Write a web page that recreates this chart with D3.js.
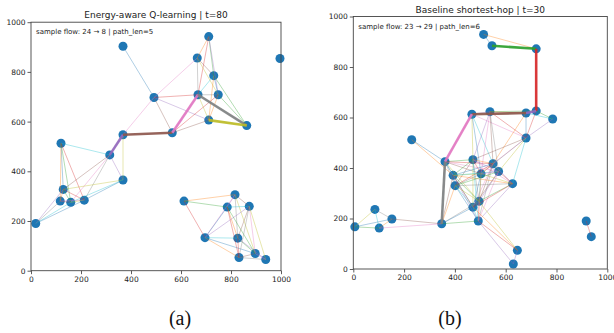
<!DOCTYPE html>
<html>
<head>
<meta charset="utf-8">
<script src="https://cdn.jsdelivr.net/npm/d3@7"></script>
<style>
  body { margin: 0; background: #fff; }
  text { font-family: "DejaVu Sans", sans-serif; }
</style>
</head>
<body>
<div id="chart"></div>
<script>
// ---- panel (a): energy-aware Q-learning ----
var leftTitle = "Energy-aware Q-learning | t=80";
var leftFlow = "sample flow: 24 \u2192 8 | path_len=5";
var leftNodeX = [368, 711, 996, 665, 731, 492, 668, 749, 711, 863, 565, 368, 120, 315, 368,
                 129, 117, 159, 213, 19, 612, 816, 785, 873, 696, 827, 897, 832, 939];
var leftNodeY = [903, 942, 854, 856, 785, 697, 708, 708, 606, 584, 555, 547, 513, 466, 365,
                 327, 280, 275, 284, 190, 280, 306, 256, 259, 133, 131, 69, 53, 45];
var leftEdges = [
  [0,5],[1,3],[1,4],[1,6],[1,7],[3,4],[3,5],[3,6],[3,7],[4,6],[4,7],[4,8],[4,9],
  [5,6],[5,8],[5,10],[5,11],[6,7],[6,8],[6,9],[6,10],[7,8],[7,9],[7,10],[8,9],[8,10],
  [10,11],[11,13],[11,14],[12,13],[12,15],[12,16],[12,17],[12,18],[13,14],[13,15],
  [13,17],[13,18],[14,15],[14,17],[14,18],[15,16],[15,17],[15,18],[15,19],[16,17],
  [16,18],[16,19],[17,18],[17,19],[18,19],[20,21],[20,22],[20,24],[21,22],[21,23],
  [21,24],[21,25],[21,26],[22,23],[22,24],[22,25],[22,26],[22,27],[23,24],[23,25],
  [23,26],[23,27],[23,28],[24,25],[24,26],[24,27],[25,26],[25,27],[25,28],[26,27],
  [26,28],[27,28]
];
var leftPath = [13, 11, 10, 6, 9, 8];
var leftPathColorStart = 4;

// ---- panel (b): baseline shortest-hop ----
var rightTitle = "Baseline shortest-hop | t=30";
var rightFlow = "sample flow: 23 \u2192 29 | path_len=6";
var rightNodeX = [513, 546, 720, 467, 538, 680, 720, 785, 680, 230, 361, 471, 550, 393, 503,
                  572, 401, 627, 495, 471, 492, 348, 85, 152, 6, 102, 917, 937, 646, 630];
var rightNodeY = [929, 884, 872, 613, 623, 618, 626, 594, 519, 512, 425, 433, 417, 371, 377,
                  386, 330, 338, 268, 245, 190, 179, 236, 198, 167, 162, 190, 128, 74, 20];
var rightEdges = [
  [0,1],[0,2],[1,2],[2,6],[3,4],[3,5],[3,8],[3,10],[3,11],[3,12],[3,14],
  [4,5],[4,6],[4,8],[4,11],[4,12],[4,14],[4,15],[5,6],[5,7],[5,8],[5,12],[6,7],[6,8],
  [7,8],[8,11],[8,12],[8,14],[8,15],[8,17],[9,10],[9,13],
  [10,11],[10,12],[10,13],[10,14],[10,15],[10,16],[10,18],[10,19],[10,21],
  [11,12],[11,13],[11,14],[11,15],[11,16],[11,17],[11,18],[11,19],[11,20],
  [12,13],[12,14],[12,15],[12,16],[12,17],[12,18],[12,19],[12,20],
  [13,14],[13,15],[13,16],[13,17],[13,18],[13,19],[13,20],[13,21],
  [14,15],[14,16],[14,17],[14,18],[14,19],[14,20],[15,16],[15,17],[15,18],[15,19],[15,20],
  [16,17],[16,18],[16,19],[16,20],[16,21],[17,18],[17,19],[17,20],
  [18,19],[18,20],[18,21],[18,28],[19,20],[19,21],[19,28],[20,21],[20,28],[20,29],
  [21,23],[21,25],[22,23],[22,24],[22,25],[23,24],[23,25],[24,25],[26,27],[28,29]
];
var rightPath = [1, 2, 6, 5, 3, 10, 21];
var rightPathColorStart = 2;

var axisTicks = [0, 200, 400, 600, 800, 1000];
var panelLabels = ["(a)", "(b)"];

var tab10 = d3.schemeCategory10;

var svg = d3.select("#chart").append("svg")
  .attr("width", 614)
  .attr("height", 333)
  .style("background-color", "white");

function drawPanel(p) {
  var x = d3.scaleLinear().domain([0, 1000]).range([p.left, p.right]);
  var y = d3.scaleLinear().domain([0, 1000]).range([p.bottom, p.top]);
  var g = svg.append("g");

  // nodes first (matplotlib scatter sits under the lines)
  g.selectAll(".node")
    .data(p.nx.map(function(d, i) { return i; }))
    .enter().append("circle")
    .attr("class", "node")
    .attr("cx", function(i) { return x(p.nx[i]); })
    .attr("cy", function(i) { return y(p.ny[i]); })
    .attr("r", 4.5)
    .style("fill", "#1f77b4");

  // thin links
  g.selectAll(".edge")
    .data(p.edges)
    .enter().append("line")
    .attr("class", "edge")
    .attr("x1", function(d) { return x(p.nx[d[0]]); })
    .attr("y1", function(d) { return y(p.ny[d[0]]); })
    .attr("x2", function(d) { return x(p.nx[d[1]]); })
    .attr("y2", function(d) { return y(p.ny[d[1]]); })
    .attr("stroke", function(d, i) { return tab10[i % 10]; })
    .attr("stroke-width", 0.8)
    .attr("stroke-opacity", 0.45);

  // route of the sample flow
  var segs = [];
  for (var i = 0; i < p.path.length - 1; i++) segs.push([p.path[i], p.path[i + 1]]);
  g.selectAll(".hop")
    .data(segs)
    .enter().append("line")
    .attr("class", "hop")
    .attr("x1", function(d) { return x(p.nx[d[0]]); })
    .attr("y1", function(d) { return y(p.ny[d[0]]); })
    .attr("x2", function(d) { return x(p.nx[d[1]]); })
    .attr("y2", function(d) { return y(p.ny[d[1]]); })
    .attr("stroke", function(d, i) { return tab10[(p.colorStart + i) % 10]; })
    .attr("stroke-width", 2.6)
    .attr("stroke-opacity", 0.9);

  // axes
  var fmt = d3.format("d");
  var xa = g.append("g")
    .attr("transform", "translate(0," + p.bottom + ")")
    .call(d3.axisBottom(x).tickValues(axisTicks).tickFormat(fmt).tickSize(3.5).tickPadding(2.5));
  var ya = g.append("g")
    .attr("transform", "translate(" + p.left + ",0)")
    .call(d3.axisLeft(y).tickValues(axisTicks).tickFormat(fmt).tickSize(3.5).tickPadding(2));
  [xa, ya].forEach(function(a) {
    a.select(".domain").remove();
    a.selectAll("text").style("font-size", "7.5px").attr("fill", "#222");
    a.selectAll("line").attr("stroke", "#333").attr("stroke-width", 0.8);
  });

  g.append("rect")
    .attr("x", p.left).attr("y", p.top)
    .attr("width", p.right - p.left).attr("height", p.bottom - p.top)
    .attr("fill", "none").attr("stroke", "#444").attr("stroke-width", 0.9);

  g.append("text")
    .attr("x", (p.left + p.right) / 2).attr("y", p.top - 4)
    .attr("text-anchor", "middle")
    .style("font-size", "9px").attr("fill", "#222")
    .text(p.title);

  g.append("text")
    .attr("x", p.left + 5).attr("y", p.top + 12)
    .style("font-size", "7px").attr("fill", "#222")
    .text(p.flow);

  g.append("text")
    .attr("x", p.labelX).attr("y", 325)
    .attr("text-anchor", "middle")
    .style("font-family", "'Liberation Serif', serif")
    .style("font-size", "20px").attr("fill", "#111")
    .text(p.label);
}

drawPanel({
  left: 31, right: 281, top: 22.2, bottom: 270.7,
  nx: leftNodeX, ny: leftNodeY, edges: leftEdges, path: leftPath,
  colorStart: leftPathColorStart, title: leftTitle, flow: leftFlow,
  label: panelLabels[0], labelX: 180
});
drawPanel({
  left: 353.3, right: 607.3, top: 16.5, bottom: 269,
  nx: rightNodeX, ny: rightNodeY, edges: rightEdges, path: rightPath,
  colorStart: rightPathColorStart, title: rightTitle, flow: rightFlow,
  label: panelLabels[1], labelX: 450
});
</script>
</body>
</html>
